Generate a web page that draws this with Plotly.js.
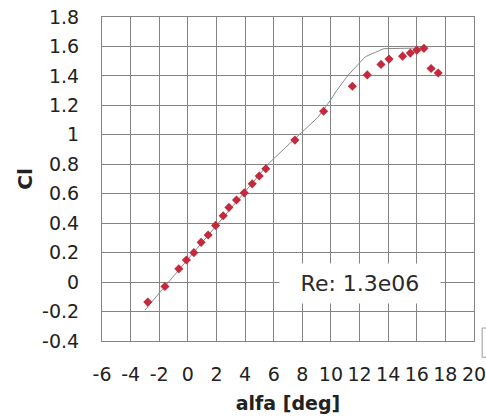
<!DOCTYPE html>
<html>
<head>
<meta charset="utf-8">
<script src="https://cdn.plot.ly/plotly-3.0.1.min.js"></script>
<style>
  html, body { margin: 0; padding: 0; background: #fff; }
  #chart { width: 486px; height: 419px; }
</style>
</head>
<body>
<div id="chart"></div>
<script>
// Measured lift coefficient vs angle of attack
const alphaMeasured = [-2.8, -1.6, -0.63, -0.1, 0.42, 0.93, 1.42, 1.94, 2.47, 2.87, 3.4, 3.94,
  4.5, 4.99, 5.45, 7.48, 9.49, 11.5, 12.54, 13.5, 14.06, 15.01, 15.55, 16.0, 16.5, 17.0, 17.5];
const clMeasured = [-0.136, -0.03, 0.09, 0.15, 0.20, 0.27, 0.32, 0.385, 0.45, 0.507, 0.557, 0.606,
  0.667, 0.72, 0.77, 0.964, 1.16, 1.33, 1.407, 1.478, 1.514, 1.534, 1.555, 1.575, 1.587, 1.45, 1.42];

// Computed polar
const alphaCalc = [-3.0, 5.7, 7.0, 8.3, 9.1, 9.93, 10.4, 11.2, 12.4, 13.7, 15.0, 16.7];
const clCalc = [-0.19, 0.81, 0.93, 1.05, 1.12, 1.23, 1.30, 1.405, 1.53, 1.585, 1.585, 1.59];

// Axis ticks
const xTickVals = [-6, -4, -2, 0, 2, 4, 6, 8, 10, 12, 14, 16, 18, 20];
const xTickText = ['-6', '-4', '-2', '0', '2', '4', '6', '8', '10', '12', '14', '16', '18', '20'];
const yTickVals = [-0.4, -0.2, 0, 0.2, 0.4, 0.6, 0.8, 1, 1.2, 1.4, 1.6, 1.8];
const yTickText = ['-0.4', '-0.2', '0', '0.2', '0.4', '0.6', '0.8', '1', '1.2', '1.4', '1.6', '1.8'];

const reynoldsLabel = 'Re: 1.3e06';

const fontFamily = '"DejaVu Sans", Verdana, sans-serif';

const traces = [
  {
    x: alphaCalc, y: clCalc,
    type: 'scatter', mode: 'lines',
    line: { color: '#8a8a8a', width: 1 },
    hoverinfo: 'skip'
  },
  {
    x: alphaMeasured, y: clMeasured,
    type: 'scatter', mode: 'markers',
    marker: { symbol: 'diamond', size: 7, color: '#c42a3c' }
  }
];

const layout = {
  width: 486,
  height: 419,
  margin: { l: 102, r: 12, t: 17, b: 78 },
  paper_bgcolor: '#ffffff',
  plot_bgcolor: '#ffffff',
  showlegend: false,
  font: { family: fontFamily, color: '#222', size: 19 },
  xaxis: {
    range: [-6, 20],
    tickmode: 'array', tickvals: xTickVals, ticktext: xTickText,
    ticklabeloverflow: 'allow',
    showgrid: true, gridcolor: '#838383', gridwidth: 1,
    zeroline: false,
    showline: true, linecolor: '#838383', linewidth: 1, mirror: true,
    ticks: 'outside', ticklen: 16, tickcolor: 'rgba(0,0,0,0)',
    tickfont: { size: 19, color: '#222' },
    title: { text: '<b>alfa [deg]</b>', font: { size: 19, color: '#222' }, standoff: 12 }
  },
  yaxis: {
    range: [-0.4, 1.8],
    tickmode: 'array', tickvals: yTickVals, ticktext: yTickText,
    ticklabeloverflow: 'allow',
    showgrid: true, gridcolor: '#838383', gridwidth: 1,
    zeroline: false,
    showline: true, linecolor: '#838383', linewidth: 1, mirror: true,
    ticks: 'outside', ticklen: 18, tickcolor: 'rgba(0,0,0,0)',
    tickfont: { size: 19, color: '#222' },
    title: { text: '<b>Cl</b>', font: { size: 20, color: '#222' }, standoff: 4 }
  },
  annotations: [
    {
      xref: 'x', yref: 'y', x: 12.0, y: -0.01,
      text: reynoldsLabel, showarrow: false,
      font: { size: 22, color: '#2a2a2a', family: fontFamily },
      bgcolor: '#ffffff',
      width: 158, height: 37,
      xanchor: 'center', yanchor: 'middle'
    }
  ],
  shapes: [
    {
      type: 'rect', xref: 'paper', yref: 'paper',
      x0: 1.022, x1: 1.06, y0: -0.05, y1: 0.04,
      line: { color: '#9a9a9a', width: 1 },
      fillcolor: 'rgba(0,0,0,0)'
    }
  ]
};

Plotly.newPlot('chart', traces, layout, { displayModeBar: false, staticPlot: true });
</script>
</body>
</html>
